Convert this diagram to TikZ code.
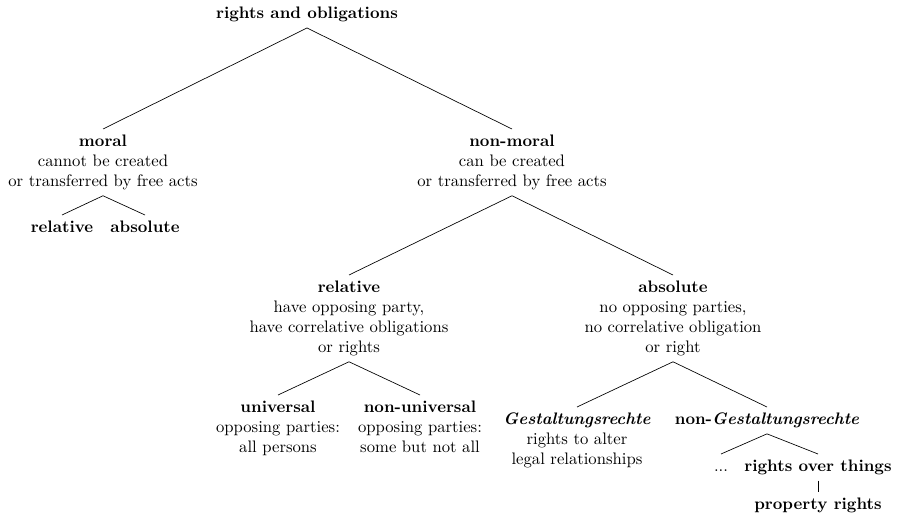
\documentclass[tikz,border=0pt]{standalone}
\begin{document}
\begin{tikzpicture}[x=0.6pt,y=-0.6pt,
    kat/.style={align=center,anchor=north}]
    % 画布大小
    \useasboundingbox (0,0) rectangle (899,513);

    % 第一层
    \node[align=center,anchor=south] (root) at (307,28) {\textbf{rights and obligations}};
    \node[kat] (moral) at (103,129) {\textbf{moral}\\cannot be created\\or transferred by free acts};
    \node[kat] (nonmoral) at (512,129) {\textbf{non-moral}\\can be created\\or transferred by free acts};

    % moral 下面
    \node[kat] (mrel) at (62,215) {\textbf{relative}};
    \node[kat] (mabs) at (145,215) {\textbf{absolute}};

    % non-moral 下面
    \node[kat] (rel) at (349,275) {\textbf{relative}\\have opposing party,\\have correlative obligations\\or rights};
    \node[kat] (abs) at (673,275) {\textbf{absolute}\\no opposing parties,\\no correlative obligation\\or right};

    \node[kat] (univ) at (278,395) {\textbf{universal}\\opposing parties:\\all persons};
    \node[kat] (nonuniv) at (420,395) {\textbf{non-universal}\\opposing parties:\\some but not all};
    \node[kat] (gest) at (577,407) {\textbf{\textit{Gestaltungsrechte}}\\rights to alter\\legal relationships};
    \node[kat] (nongest) at (767,407) {\textbf{non-\textit{Gestaltungsrechte}}};

    \node[kat] (dots) at (721,454) {\vphantom{l}...};
    \node[kat] (things) at (818,454) {\textbf{rights over things}};
    \node[kat] (prop) at (818,492) {\textbf{property rights}};

    % 连线
    \draw (root.south) -- (moral.north);
    \draw (root.south) -- (nonmoral.north);
    \draw (moral.south) -- (mrel.north);
    \draw (moral.south) -- (mabs.north);
    \draw (nonmoral.south) -- (rel.north);
    \draw (nonmoral.south) -- (abs.north);
    \draw (rel.south) -- (univ.north);
    \draw (rel.south) -- (nonuniv.north);
    \draw (abs.south) -- (gest.north);
    \draw (abs.south) -- (nongest.north);
    \draw (nongest.south) -- (dots.north);
    \draw (nongest.south) -- (things.north);
    \draw (things.south) -- (prop.north);
\end{tikzpicture}
\end{document}
